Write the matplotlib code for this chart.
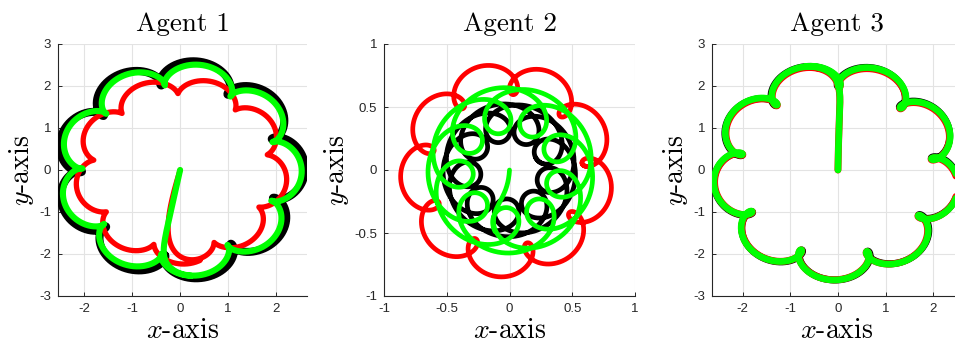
import numpy as np
import matplotlib.pyplot as plt
from matplotlib.ticker import FuncFormatter

plt.rcParams['mathtext.fontset'] = 'cm'
plt.rcParams['axes.unicode_minus'] = False
plt.rcParams['font.family'] = ['Liberation Sans', 'DejaVu Sans']

# panels
titles = ['Agent 1', 'Agent 2', 'Agent 3']
x_limits = [(-2.55, 2.65), (-1.0, 1.0), (-2.64, 2.6)]
y_limits = [(-3, 3), (-1, 1), (-3, 3)]
x_ticks = [[-2, -1, 0, 1, 2], [-1, -0.5, 0, 0.5, 1], [-2, -1, 0, 1, 2]]
y_ticks = [[-3, -2, -1, 0, 1, 2, 3], [-1, -0.5, 0, 0.5, 1], [-3, -2, -1, 0, 1, 2, 3]]

# trajectories, one row per agent, columns = black, red, green
ring_radius = [[2.33, 2.03, 2.29], [0.38, 0.725, 0.48], [2.3, 2.29, 2.3]]
loop_radius = [[0.28, 0.19, 0.25], [0.15, 0.125, 0.18], [0.29, 0.285, 0.29]]
loop_width = [[0.28, 0.19, 0.25], [0.20, 0.125, 0.23], [0.29, 0.285, 0.29]]
loop_freq = [[10, 10, 10], [5.5, 10, 5.5], [10, 10, 10]]
first_cusp = [[-99.0, -108.0, -101.0], [26.0, 5.4, -95.5], [88.9, 88.4, 88.4]]
start_angle = [[0.0, 7.0, 0.0], [0.0, 0.0, 0.0], [0.0, 0.0, 0.0]]
centre_x = [[0.0, 0.02, 0.0], [0.0, -0.02, 0.01], [-0.03, -0.03, -0.03]]
centre_y = [[0.0, -0.02, 0.0], [0.0, 0.0, 0.0], [-0.03, -0.04, -0.03]]
settle = [[0.0, 0.08, 0.05], [0.0, 0.0, 0.08], [0.0, 0.05, 0.05]]
turns = [[1.02, 1.05, 1.05], [2.02, 1.02, 2.05], [1.02, 1.05, 1.05]]

colors = ['#000000', '#ff0000', '#00ff00']
widths = [[5.8, 3.8, 4.4], [3.4, 3.4, 3.4], [5.0, 5.0, 4.8]]


def trajectory(A, B, C, k, cusp, start, cx, cy, tau, revs):
  t = np.linspace(0, 2 * np.pi * revs, 6000)
  theta = t + np.deg2rad(start)
  psi = (k - 1) * theta
  ring = np.exp(1j * theta) * (A - B * np.cos(psi) - 1j * C * np.sin(psi))
  z = np.exp(1j * np.deg2rad(cusp)) * ring + (cx + 1j * cy)
  if tau > 0:
    z = z * (1 - np.exp(-t / tau))
  return z.real, z.imag


fig = plt.figure(figsize=(9.55, 3.51), dpi=100)
W, H = 955.0, 351.0
boxes = [(58, 249), (384, 251), (712, 250)]
label_font = 'cmr10'

for a in range(3):
  left, width = boxes[a]
  ax = fig.add_axes([left / W, 55 / H, width / W, 252 / H])
  for s in range(3):
    x, y = trajectory(ring_radius[a][s], loop_radius[a][s], loop_width[a][s],
                      loop_freq[a][s], first_cusp[a][s], start_angle[a][s],
                      centre_x[a][s], centre_y[a][s], settle[a][s], turns[a][s])
    ax.plot(x, y, color=colors[s], lw=widths[a][s], solid_capstyle='round',
            solid_joinstyle='round', zorder=3 + s)
  ax.set_xlim(*x_limits[a])
  ax.set_ylim(*y_limits[a])
  ax.set_xticks(x_ticks[a])
  ax.set_yticks(y_ticks[a])
  ax.xaxis.set_major_formatter(FuncFormatter(lambda v, p: '%g' % v))
  ax.yaxis.set_major_formatter(FuncFormatter(lambda v, p: '%g' % v))
  ax.grid(True, color='#e3e3e3', lw=0.8)
  ax.set_axisbelow(True)
  for side in ['top', 'right']:
    ax.spines[side].set_visible(False)
  for side in ['left', 'bottom']:
    ax.spines[side].set_color('#262626')
    ax.spines[side].set_linewidth(0.8)
  ax.tick_params(direction='in', length=3, width=0.7, colors='#262626',
                 labelsize=9.5, pad=5)
  ax.set_title(titles[a], fontsize=19.5, family=label_font, pad=9)
  ax.set_xlabel(r'$x$-axis', fontsize=20, family=label_font, labelpad=2)
  ax.set_ylabel(r'$y$-axis', fontsize=20, family=label_font, labelpad=2)

fig.savefig('out.png', dpi=100)
